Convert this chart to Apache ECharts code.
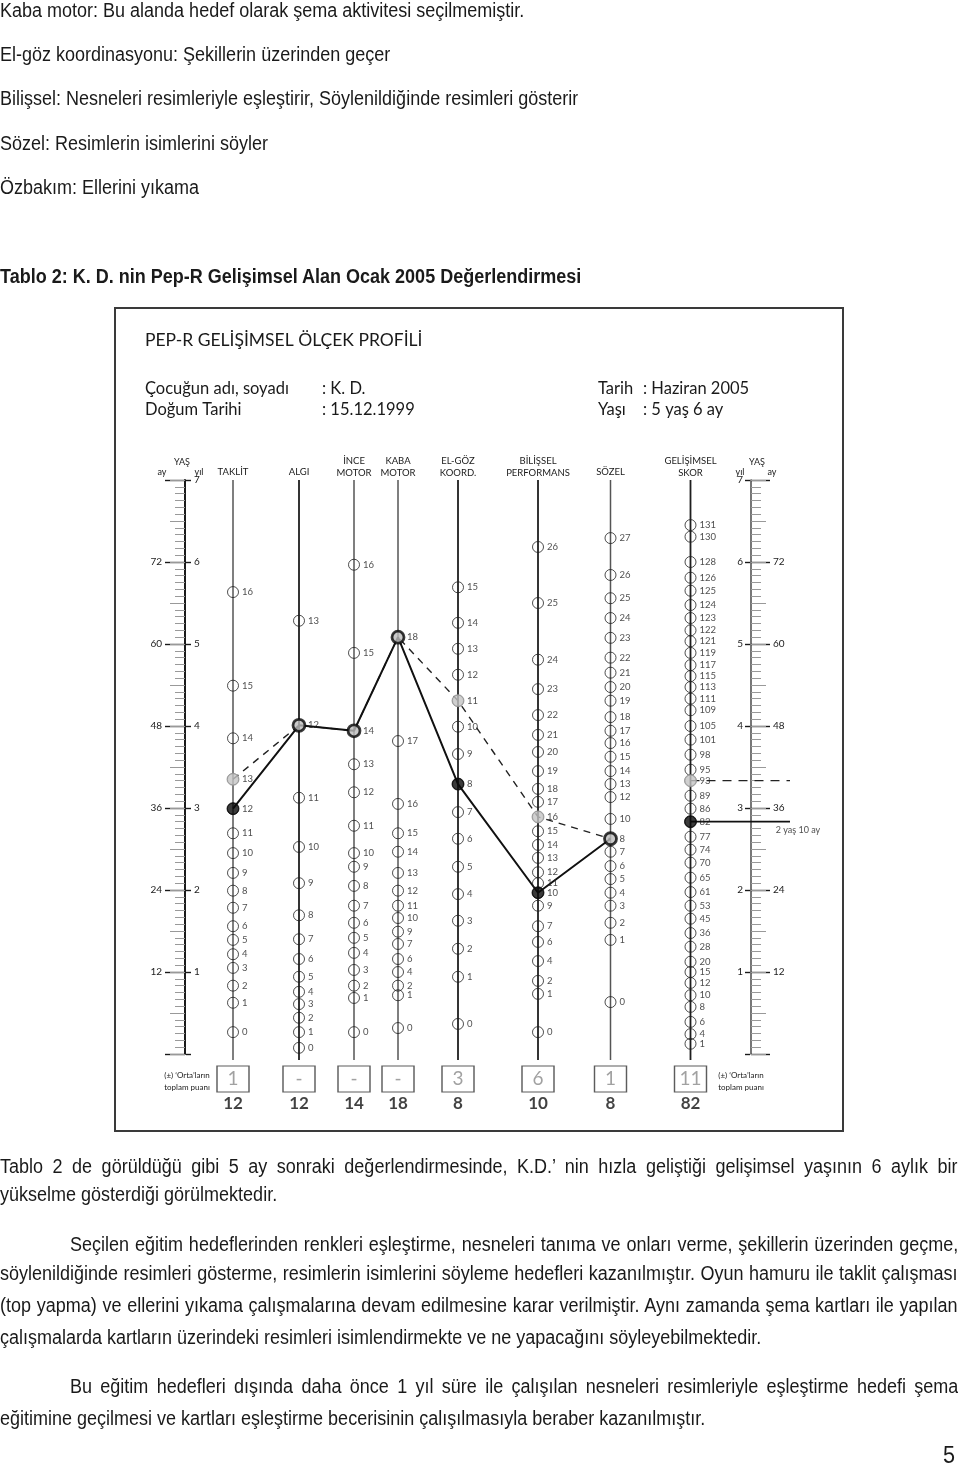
<!DOCTYPE html>
<html><head><meta charset="utf-8">
<script src="https://cdn.jsdelivr.net/npm/echarts@6/dist/echarts.min.js"></script>
<style>
body{margin:0;width:960px;height:1469px;position:relative;overflow:hidden;background:#fff}
#c{position:absolute;left:0;top:0;width:960px;height:1469px}
.t{position:absolute;left:0;font-family:'Liberation Sans',Arial,sans-serif;font-size:20px;line-height:24px;height:24px;color:#1a1a1a;white-space:nowrap;overflow:hidden;transform:scaleX(0.9);transform-origin:0 50%}
.j{width:1064px;text-align:justify;text-align-last:justify;white-space:normal}
.ji{width:987px}
.b{font-weight:bold}
</style></head><body>
<div id="c"></div>
<div class="t" style="top:-2px">Kaba motor: Bu alanda hedef olarak şema aktivitesi seçilmemiştir.</div>
<div class="t" style="top:42px">El-göz koordinasyonu: Şekillerin üzerinden geçer</div>
<div class="t" style="top:86px">Bilişsel: Nesneleri resimleriyle eşleştirir, Söylenildiğinde resimleri gösterir</div>
<div class="t" style="top:131px">Sözel: Resimlerin isimlerini söyler</div>
<div class="t" style="top:175px">Özbakım: Ellerini yıkama</div>
<div class="t b" style="top:264px">Tablo 2: K. D. nin Pep-R Gelişimsel Alan Ocak 2005 Değerlendirmesi</div>
<div class="t j" style="top:1154px">Tablo 2 de görüldüğü gibi 5 ay sonraki değerlendirmesinde, K.D.’ nin hızla geliştiği gelişimsel yaşının 6 aylık bir</div>
<div class="t" style="top:1182px">yükselme gösterdiği görülmektedir.</div>
<div class="t j ji" style="top:1232px;left:70px">Seçilen eğitim hedeflerinden renkleri eşleştirme, nesneleri tanıma ve onları verme, şekillerin üzerinden geçme,</div>
<div class="t j" style="top:1261px">söylenildiğinde resimleri gösterme, resimlerin isimlerini söyleme hedefleri kazanılmıştır. Oyun hamuru ile taklit çalışması</div>
<div class="t j" style="top:1293px">(top yapma) ve ellerini yıkama çalışmalarına devam edilmesine karar verilmiştir. Aynı zamanda şema kartları ile yapılan</div>
<div class="t" style="top:1325px">çalışmalarda kartların üzerindeki resimleri isimlendirmekte ve ne yapacağını söyleyebilmektedir.</div>
<div class="t j ji" style="top:1374px;left:70px">Bu eğitim hedefleri dışında daha önce 1 yıl süre ile çalışılan nesneleri resimleriyle eşleştirme hedefi şema</div>
<div class="t" style="top:1406px">eğitimine geçilmesi ve kartları eşleştirme becerisinin çalışılmasıyla beraber kazanılmıştır.</div>
<div class="t" style="top:1440px;left:943px;font-size:24px;line-height:30px;height:30px">5</div>
<script>
// ---------- DATA ----------
const columnNames = [['TAKLİT'],['ALGI'],['İNCE','MOTOR'],['KABA','MOTOR'],['EL-GÖZ','KOORD.'],['BİLİŞSEL','PERFORMANS'],['SÖZEL'],['GELİŞİMSEL','SKOR']];
// score ticks and their age equivalents (months) on each scale
const taklitScores = [16,15,14,13,12,11,10,9,8,7,6,5,4,3,2,1,0];
const taklitAges   = [67.6,53.9,46.2,40.2,35.9,32.3,29.4,26.5,23.9,21.4,18.7,16.7,14.6,12.6,10.0,7.5,3.2];
const algiScores   = [13,12,11,10,9,8,7,6,5,4,3,2,1,0];
const algiAges     = [63.4,48.1,37.5,30.3,25.0,20.3,16.8,13.9,11.3,9.1,7.3,5.3,3.2,0.9];
const inceScores   = [16,15,14,13,12,11,10,9,8,7,6,5,4,3,2,1,0];
const inceAges     = [71.6,58.7,47.3,42.4,38.3,33.4,29.4,27.4,24.6,21.7,19.2,17.0,14.8,12.3,10.0,8.2,3.2];
const kabaScores   = [18,17,16,15,14,13,12,11,10,9,7,6,4,2,1,0];
const kabaAges     = [61.0,45.8,36.6,32.3,29.6,26.5,23.9,21.7,19.9,17.9,16.1,13.9,12.0,10.0,8.6,3.8];
const elgozScores  = [15,14,13,12,11,10,9,8,7,6,5,4,3,2,1,0];
const elgozAges    = [68.3,63.1,59.3,55.5,51.7,47.9,43.9,39.5,35.4,31.5,27.4,23.4,19.5,15.4,11.3,4.4];
const bilisselScores = [26,25,24,23,22,21,20,19,18,17,16,15,14,13,12,11,10,9,7,6,4,2,1,0];
const bilisselAges   = [74.2,66.0,57.7,53.4,49.6,46.7,44.2,41.4,38.8,36.9,34.7,32.6,30.6,28.7,26.6,25.0,23.6,21.7,18.7,16.4,13.6,10.7,8.8,3.2];
const sozelScores  = [27,26,25,24,23,22,21,20,19,18,17,16,15,14,13,12,10,8,7,6,5,4,3,2,1,0];
const sozelAges    = [75.5,70.1,66.7,63.8,60.9,58.0,55.8,53.7,51.7,49.3,47.3,45.5,43.5,41.4,39.5,37.6,34.4,31.5,29.6,27.5,25.6,23.6,21.7,19.2,16.7,7.6];
const skorScores   = [131,130,128,126,125,124,123,122,121,119,117,115,113,111,109,105,101,98,95,93,89,86,82,77,74,70,65,61,53,45,36,28,20,15,12,10,8,6,4,1];
const skorAges     = [77.4,75.7,72.0,69.7,67.8,65.7,63.8,62.0,60.4,58.7,56.9,55.3,53.7,52.0,50.3,48.0,46.0,43.8,41.6,40.0,37.8,35.9,34.0,31.8,29.9,28.0,25.8,23.7,21.7,19.8,17.7,15.7,13.5,12.0,10.4,8.6,6.9,4.7,2.9,1.5];
// profiles
const solidProfile  = [12,12,14,18,8,10,8,82];   // totals row
const dashedProfile = [13,12,14,18,11,16,8,93];
const diffRow       = ['1','-','-','-','3','6','1','11'];
const resultLabel   = '2 yaş 10 ay';

// ---------- LAYOUT ----------
const scoreLists = [taklitScores,algiScores,inceScores,kabaScores,elgozScores,bilisselScores,sozelScores,skorScores];
const ageLists   = [taklitAges,algiAges,inceAges,kabaAges,elgozAges,bilisselAges,sozelAges,skorAges];
const colX = [233,299,354,398,458,538,610.5,690.5];
const darkCols = [false,true,false,false,true,true,false,true];
const PX = 574/84, Y0 = 1054, TOPY = 480, YMIN = -10;
const rowVal = px => (Y0 - px)/PX;
const END_X = 790;
const FONT = 'Lato, "Noto Sans", sans-serif';
const ageOf = (i,s) => ageLists[i][scoreLists[i].indexOf(s)];

const chart = echarts.init(document.getElementById('c'), null, {renderer:'canvas'});
const series = [];
// column lines
colX.forEach((x,i)=>{
  series.push({type:'line', xAxisIndex:0, yAxisIndex:0, data:[[x,84],[x,rowVal(1060)]], symbol:'none', silent:true, z:1,
    lineStyle:{color: darkCols[i]?'#1e1e1e':'#555', width: darkCols[i]?1.8:1.5}});
});
// profile lines (first 7 scales)
const solidPts = solidProfile.slice(0,7).map((s,i)=>[colX[i], ageOf(i,s)]);
const dashedPts = dashedProfile.slice(0,7).map((s,i)=>[colX[i], ageOf(i,s)]);
series.push({type:'line', data:dashedPts, symbol:'none', z:2, silent:true, lineStyle:{color:'#222', width:1.4, type:[7,6]}});
series.push({type:'line', data:solidPts, symbol:'none', z:3, silent:true, lineStyle:{color:'#111', width:2}});
// developmental score horizontals
const sA = ageOf(7, solidProfile[7]), dA = ageOf(7, dashedProfile[7]);
series.push({type:'line', data:[[colX[7], dA],[END_X, dA]], symbol:'none', z:2, silent:true, lineStyle:{color:'#222', width:1.4, type:[9,7]}});
series.push({type:'line', data:[[colX[7], sA],[END_X, sA]], symbol:'none', z:3, silent:true, lineStyle:{color:'#111', width:1.6}});
series.push({type:'scatter', z:7, silent:true, symbolSize:1, data:[[END_X, sA]], itemStyle:{color:'rgba(255,255,255,0)'},
  label:{show:true, formatter:resultLabel, position:'bottom', distance:3, offset:[8,0], fontSize:9, fontFamily:FONT, color:'#222'}});
// score circles
colX.forEach((x,i)=>{
  series.push({type:'scatter', z:4, silent:true, symbol:'circle', symbolSize:11,
    data: scoreLists[i].map((s,j)=>[x, ageLists[i][j], s]),
    itemStyle:{color:'rgba(255,255,255,0)', borderColor:'#222', borderWidth:1},
    label:{show:true, position:'right', distance:3, formatter:p=>p.value[2], fontSize:9.5, fontFamily:FONT, color:'#222'}});
});
// highlighted marks
const blackPts=[], grayPts=[], bothPts=[];
colX.forEach((x,i)=>{
  const s=solidProfile[i], d=dashedProfile[i];
  if (s===d) bothPts.push([x, ageOf(i,s)]);
  else { blackPts.push([x, ageOf(i,s)]); grayPts.push([x, ageOf(i,d)]); }
});
series.push({type:'scatter', z:6, silent:true, data:grayPts, symbolSize:12, itemStyle:{color:'#c4c4c4', borderColor:'#999', borderWidth:1}});
series.push({type:'scatter', z:6, silent:true, data:blackPts, symbolSize:12, itemStyle:{color:'#0a0a0a', borderColor:'#0a0a0a', borderWidth:1}});
series.push({type:'scatter', z:6, silent:true, data:bothPts, symbolSize:12, itemStyle:{color:'#bdbdbd', borderColor:'#0a0a0a', borderWidth:2.8}});
// difference boxes and totals
series.push({type:'scatter', z:5, silent:true, symbol:'rect', symbolSize:[32,26],
  data: colX.map((x,i)=>[x, rowVal(1079), diffRow[i]]),
  itemStyle:{color:'rgba(255,255,255,0)', borderColor:'#333', borderWidth:1.3},
  label:{show:true, position:'inside', formatter:p=>p.value[2], fontSize:19, fontFamily:FONT, color:'#8a8a8a'}});
series.push({type:'scatter', z:5, silent:true, symbolSize:1,
  data: colX.map((x,i)=>[x, rowVal(1104), String(solidProfile[i])]),
  itemStyle:{color:'rgba(255,255,255,0)'},
  label:{show:true, position:'inside', formatter:p=>p.value[2], fontSize:17, fontWeight:'bold', fontFamily:FONT, color:'#111'}});

const lab = {fontSize:10, fontFamily:FONT, color:'#222'};
const base = {type:'value', min:0, max:84, splitLine:{show:false}, minorSplitLine:{show:false}};
const monthFmt = v => (v>0 && v<84) ? String(v) : '';
const yearFmt = v => v>0 ? String(v/12) : '';
const yAxes = [
  {gridIndex:0, type:'value', min:YMIN, max:84, show:false},
  // left age scale
  Object.assign({}, base, {gridIndex:1, position:'left', interval:12,
    axisLine:{show:true, onZero:false, lineStyle:{color:'#1a1a1a', width:2}},
    axisTick:{show:true, length:20, lineStyle:{color:'#1a1a1a', width:1.4}},
    minorTick:{show:true, splitNumber:12, length:10, lineStyle:{color:'#999', width:1}},
    axisLabel:Object.assign({margin:23, formatter:monthFmt}, lab)}),
  Object.assign({}, base, {gridIndex:1, position:'left', interval:6,
    axisLine:{show:false, onZero:false}, axisTick:{show:true, length:15, lineStyle:{color:'#999', width:1}}, axisLabel:{show:false}}),
  Object.assign({}, base, {gridIndex:1, position:'right', interval:12,
    axisLine:{show:false, onZero:false}, axisTick:{show:true, length:5, lineStyle:{color:'#1a1a1a', width:1.4}},
    axisLabel:Object.assign({margin:8, formatter:yearFmt}, lab)}),
  // right age scale
  Object.assign({}, base, {gridIndex:2, position:'right', interval:12,
    axisLine:{show:true, onZero:false, lineStyle:{color:'#555', width:1.6}},
    axisTick:{show:true, length:19, lineStyle:{color:'#1a1a1a', width:1.4}},
    minorTick:{show:true, splitNumber:12, length:10, lineStyle:{color:'#999', width:1}},
    axisLabel:Object.assign({margin:22, formatter:monthFmt}, lab)}),
  Object.assign({}, base, {gridIndex:2, position:'right', interval:6,
    axisLine:{show:false, onZero:false}, axisTick:{show:true, length:15, lineStyle:{color:'#999', width:1}}, axisLabel:{show:false}}),
  Object.assign({}, base, {gridIndex:2, position:'left', interval:12,
    axisLine:{show:false, onZero:false}, axisTick:{show:true, length:5, lineStyle:{color:'#1a1a1a', width:1.4}},
    axisLabel:Object.assign({margin:7, formatter:yearFmt}, lab)})
];

const graphic = [];
const T = (text,x,y,o) => graphic.push({type:'text', z:50, silent:true, style:Object.assign({text, x, y, fill:'#1a1a1a', font:'14px '+FONT, textAlign:'left', textVerticalAlign:'middle'}, o||{})});
graphic.push({type:'rect', z:40, silent:true, shape:{x:115,y:308,width:728,height:823}, style:{fill:'none', stroke:'#3a3a3a', lineWidth:2}});
const F16 = {font:'16.5px '+FONT};
T('PEP-R GELİŞİMSEL ÖLÇEK PROFİLİ',145,340,{font:'17.5px '+FONT});
T('Çocuğun adı, soyadı',145,389,F16);
T(': K. D.',322,389,F16);
T('Doğum Tarihi',145,410,F16);
T(': 15.12.1999',322,410,F16);
T('Tarih',598,389,F16);
T(': Haziran 2005',643,389,F16);
T('Yaşı',598,410,F16);
T(': 5 yaş 6 ay',643,410,F16);
columnNames.forEach((nm,i)=>{
  if (nm.length===1) T(nm[0], colX[i], 472, {font:'9.5px '+FONT, textAlign:'center'});
  else { T(nm[0], colX[i], 461, {font:'9.5px '+FONT, textAlign:'center'}); T(nm[1], colX[i], 472.5, {font:'9.5px '+FONT, textAlign:'center'}); }
});
T('YAŞ',182,462,{font:'9px '+FONT, textAlign:'center'});
T('ay',162,472,{font:'9px '+FONT, textAlign:'center'});
T('yıl',199,472,{font:'9px '+FONT, textAlign:'center'});
T('YAŞ',757,462,{font:'9px '+FONT, textAlign:'center'});
T('yıl',740,472,{font:'9px '+FONT, textAlign:'center'});
T('ay',772,472,{font:'9px '+FONT, textAlign:'center'});
T('(±) ‘Orta’ların',187,1075,{font:'8px '+FONT, textAlign:'center'});
T('toplam puanı',187,1087,{font:'8px '+FONT, textAlign:'center'});
T('(±) ‘Orta’ların',741,1075,{font:'8px '+FONT, textAlign:'center'});
T('toplam puanı',741,1087,{font:'8px '+FONT, textAlign:'center'});

chart.setOption({
  animation:false,
  grid:[
    {left:0, width:960, top:TOPY, height:(84-YMIN)*PX},
    {left:185, width:1, top:TOPY, height:574},
    {left:750, width:1, top:TOPY, height:574}
  ],
  xAxis:[
    {gridIndex:0, type:'value', min:0, max:960, show:false},
    {gridIndex:1, type:'value', min:0, max:1, show:false},
    {gridIndex:2, type:'value', min:0, max:1, show:false}
  ],
  yAxis:yAxes,
  series:series,
  graphic:graphic
});
</script>
</body></html>
